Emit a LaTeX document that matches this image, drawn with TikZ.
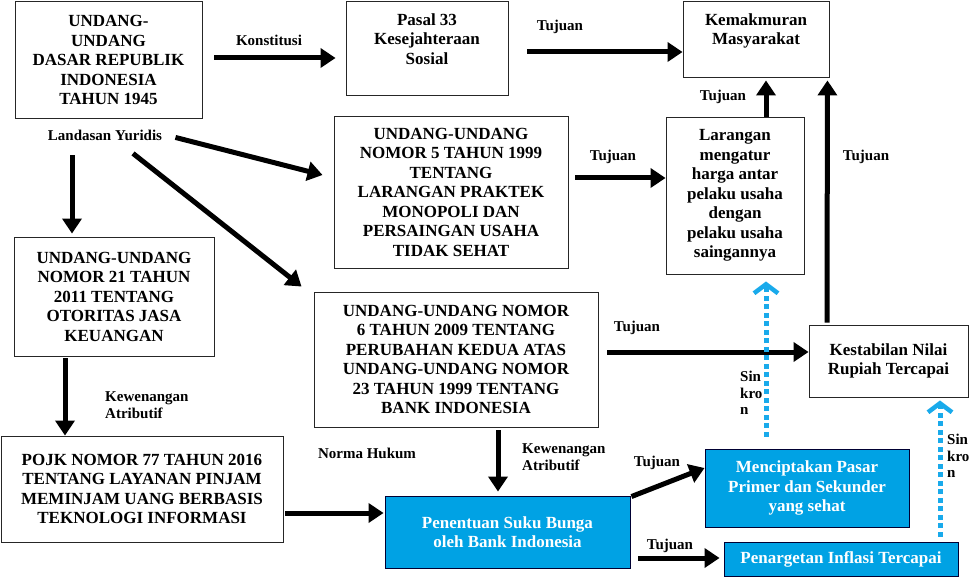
\documentclass[tikz,border=0pt]{standalone}
\usepackage{fontspec}
\setmainfont{Liberation Serif}
\usetikzlibrary{arrows.meta,calc}
\definecolor{bibiru}{RGB}{0,162,228}
\definecolor{sinkron}{RGB}{25,170,235}

\begin{document}
\begin{tikzpicture}[x=1pt,y=-1pt,
    kotak/.style={draw=black!85,line width=0.9pt,align=center,inner sep=0pt,font=\fontsize{17}{19.5}\selectfont\bfseries},
    kotakbiru/.style={kotak,fill=bibiru,text=white,draw=black!80!blue},
    ket/.style={inner sep=0pt,align=left,font=\fontsize{15}{17}\selectfont\bfseries},
    panah/.style={line width=5pt,-{Triangle[length=15pt,width=19pt]}},
    sinkr/.style={draw=sinkron,line width=5pt,dash pattern=on 5pt off 3.5pt,-{Straight Barb[length=9pt,width=24pt,line width=4.5pt]}}]
  \useasboundingbox (0,0) rectangle (969,577);

  % kotak-kotak
  \node[kotak,minimum width=187pt,minimum height=117pt] (uud) at (108.5,60) {UNDANG-\\UNDANG\\DASAR REPUBLIK\\INDONESIA\\TAHUN 1945};
  \node[kotak,minimum width=162pt,minimum height=94pt] (pasal) at (427,48.5) {Pasal 33\\Kesejahteraan\\Sosial\\ \mbox{}};
  \node[kotak,minimum width=146pt,minimum height=76pt] (kemak) at (756,39) {Kemakmuran\\Masyarakat\\ \mbox{}};
  \node[kotak,minimum width=234pt,minimum height=152pt] (uu5) at (451,192) {UNDANG-UNDANG\\NOMOR 5 TAHUN 1999\\TENTANG\\LARANGAN PRAKTEK\\MONOPOLI DAN\\PERSAINGAN USAHA\\TIDAK SEHAT};
  \node[kotak,minimum width=138pt,minimum height=157pt] (lar) at (735,195.5) {Larangan\\mengatur\\harga antar\\pelaku usaha\\dengan\\pelaku usaha\\saingannya};
  \node[kotak,minimum width=200pt,minimum height=119pt] (uu21) at (114,296.5) {UNDANG-UNDANG\\NOMOR 21 TAHUN\\2011 TENTANG\\OTORITAS JASA\\KEUANGAN};
  \node[kotak,minimum width=284pt,minimum height=135pt] (uu6) at (456,359.5) {UNDANG-UNDANG NOMOR\\6 TAHUN 2009 TENTANG\\PERUBAHAN KEDUA ATAS\\UNDANG-UNDANG NOMOR\\23 TAHUN 1999 TENTANG\\BANK INDONESIA};
  \node[kotak,minimum width=159pt,minimum height=72pt] (kest) at (888.5,361) {Kestabilan Nilai\\Rupiah Tercapai};
  \node[kotak,minimum width=282pt,minimum height=106pt] (pojk) at (142,489) {POJK NOMOR 77 TAHUN 2016\\TENTANG LAYANAN PINJAM\\MEMINJAM UANG BERBASIS\\TEKNOLOGI INFORMASI};
  \node[kotakbiru,minimum width=245pt,minimum height=72pt] (pen) at (507.5,532) {Penentuan Suku Bunga\\oleh Bank Indonesia};
  \node[kotakbiru,minimum width=204pt,minimum height=78pt] (menc) at (807,488) {Menciptakan Pasar\\Primer dan Sekunder\\yang sehat};
  \node[kotakbiru,minimum width=234pt,minimum height=34pt] (targ) at (841,559) {Penargetan Inflasi Tercapai};

  % panah
  \draw[panah] ($(uud.east)+(12,-2)$) -- ($(pasal.west)+(-10,9.5)$);
  \draw[panah] ($(pasal.east)+(19,3.5)$) -- ($(kemak.west)+(0,13)$);
  \draw[panah] ($(uud.south east)+(-27,18.5)$) -- ($(uu5.west)+(-11,-17)$);
  \draw[panah] ($(uud.south)+(-36.5,36.5)$) -- ($(uu21.north)+(-42,-3)$);
  \draw[panah] ($(uud.south)+(24.5,34.5)$) -- ($(uu6.north west)+(-12,-5)$);
  \draw[panah] ($(uu5.east)+(7,-14)$) -- ($(lar.west)+(0,-17.5)$);
  \draw[panah] ($(lar.north)+(31,0)$) -- ($(kemak.south)+(10,3)$);
  \draw[panah] ($(kest.north)+(-61.5,-2)$) -- ($(kemak.south east)+(-2,3)$);
  \draw[panah] ($(uu6.east)+(9,-7.5)$) -- ($(kest.west)+(0,-9)$);
  \draw[panah] ($(uu21.south)+(-49,2)$) -- ($(pojk.north)+(-77,0)$);
  \draw[panah] ($(uu6.south)+(42,3)$) -- ($(pen.north)+(-9.5,-4)$);
  \draw[panah] ($(pojk.east)+(2,24)$) -- ($(pen.west)+(-1,-19)$);
  \draw[panah] ($(pen.north east)+(1,1)$) -- ($(menc.west)+(0,-20)$);
  \draw[panah] ($(pen.east)+(8,26)$) -- ($(targ.west)+(-4,-1)$);
  \draw[sinkr] ($(menc.north)+(-41,-12)$) -- ($(lar.south)+(31,7)$);
  \draw[sinkr] ($(targ.north)+(99,-5)$) -- ($(kest.south)+(51.5,3)$);

  % keterangan
  \node[ket] (konst) at (269,40) {Konstitusi};
  \node[ket] (landasan) at (105,135) {Landasan Yuridis};
  \node[ket] (tj1) at (560,27) {Tujuan};
  \node[ket] (tj2) at (613,157) {Tujuan};
  \node[ket] (tj3) at (723,97) {Tujuan};
  \node[ket] (tj4) at (866,157) {Tujuan};
  \node[ket] (tj5) at (637,328) {Tujuan};
  \node[ket] (tj6) at (657,463) {Tujuan};
  \node[ket] (tj7) at (670,546) {Tujuan};
  \node[ket,anchor=west] (kew1) at (105,405) {Kewenangan\\Atributif};
  \node[ket,anchor=west] (kew2) at (522,457) {Kewenangan\\Atributif};
  \node[ket] (norma) at (367,453) {Norma Hukum};
  \node[ket,anchor=west,font=\fontsize{15}{16.5}\selectfont\bfseries] (sin1) at (740,393) {Sin\\kro\\n};
  \node[ket,anchor=west,font=\fontsize{15}{16.5}\selectfont\bfseries] (sin2) at (947,456) {Sin\\kro\\n};
\end{tikzpicture}
\end{document}
